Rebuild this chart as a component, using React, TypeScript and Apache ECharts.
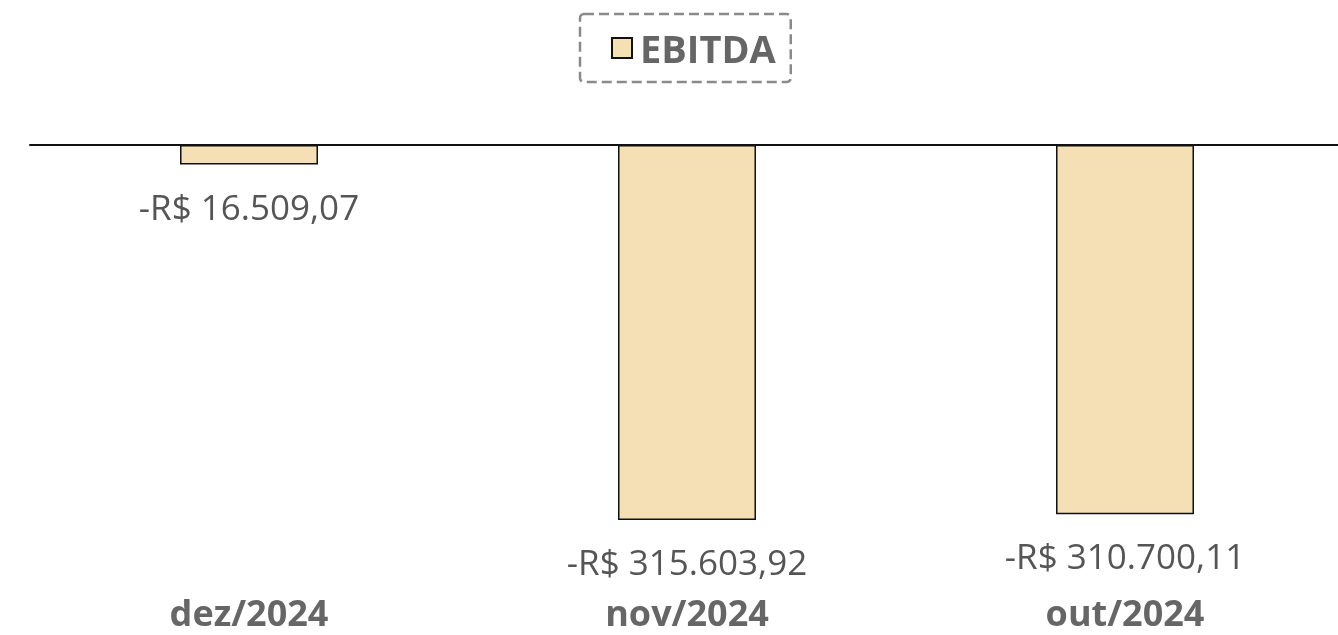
import React, { useEffect, useRef } from "react";
import * as echarts from "echarts";

const categories = ["dez/2024", "nov/2024", "out/2024"];
const ebitda = [-16509.07, -315603.92, -310700.11];
const seriesName = "EBITDA";

const fmt = (v: number) => {
  const neg = v < 0;
  const a = Math.abs(v);
  const [i, d] = a.toFixed(2).split(".");
  const withDots = i.replace(/\B(?=(\d{3})+(?!\d))/g, ".");
  return (neg ? "-" : "") + "R$ " + withDots + "," + d;
};

export default function App() {
  const ref = useRef<HTMLDivElement>(null);
  useEffect(() => {
    if (!ref.current) return;
    const chart = echarts.init(ref.current, undefined, { renderer: "svg" });
    const font = "'Open Sans', 'Noto Sans', sans-serif";
    chart.setOption({
      animation: false,
      textStyle: { fontFamily: font },
      legend: {
        data: [seriesName],
        top: 14,
        left: 580,
        icon: "rect",
        itemWidth: 20,
        itemHeight: 20,
        itemGap: 6,
        borderType: "dashed",
        borderColor: "#8a8a8a",
        borderWidth: 2.5,
        borderRadius: 4,
        padding: [15, 15, 15, 31],
        textStyle: { fontSize: 38, fontWeight: "bold", color: "#666666", fontFamily: font, padding: [0, 0, 0, 3] },
      },
      grid: { left: 30, top: 145, width: 1314, height: 416, containLabel: false },
      xAxis: [
        {
          type: "category",
          data: categories,
          position: "top",
          axisLine: { show: true, onZero: false, lineStyle: { color: "#111", width: 2 } },
          axisTick: { show: false },
          axisLabel: { show: false },
        },
        {
          type: "category",
          data: categories,
          position: "bottom",
          axisLine: { show: false },
          axisTick: { show: false },
          axisLabel: { show: true, fontSize: 36, lineHeight: 36, fontWeight: "bold", color: "#666666", margin: 33, fontFamily: font },
        },
      ],
      yAxis: {
        type: "value",
        min: -350000,
        max: 0,
        show: false,
        splitLine: { show: false },
      },
      series: [
        {
          name: seriesName,
          type: "bar",
          xAxisIndex: 0,
          data: ebitda,
          barWidth: "31.5%",
          itemStyle: { color: "#F5DFB4", borderColor: "#111", borderWidth: 1.5 },
          label: {
            show: true,
            position: "bottom",
            distance: 24,
            fontSize: 35,
            color: "#555555",
            fontFamily: font,
            formatter: (p: any) => fmt(p.value),
          },
        },
      ],
    });
    return () => chart.dispose();
  }, []);
  return (
    <div
      ref={ref}
      style={{ position: "fixed", left: 0, top: 0, width: 1344, height: 635 }}
    />
  );
}
